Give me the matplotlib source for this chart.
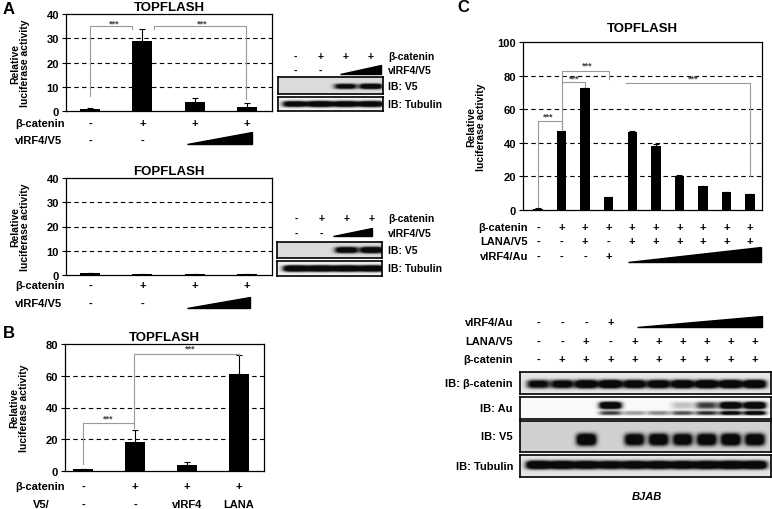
import numpy as np
import matplotlib
matplotlib.use("Agg")
import matplotlib.pyplot as plt
from matplotlib import transforms
from matplotlib.patches import Polygon

plt.rcParams['font.family'] = ['Liberation Sans', 'DejaVu Sans']
plt.rcParams['font.weight'] = 'bold'

# ---- data ----
a_top_vals = [1.0, 29.0, 3.8, 1.5]
a_top_err = [0.2, 5.0, 1.6, 2.0]
a_fop_vals = [0.8, 0.5, 0.4, 0.5]
a_fop_err = [0.1, 0.1, 0.1, 0.1]
b_vals = [1.0, 18.5, 3.5, 61.0]
b_err = [0.2, 7.5, 2.0, 12.0]
c_vals = [0.8, 47.0, 72.5, 7.5, 46.5, 38.0, 20.5, 14.0, 10.5, 9.5]
c_err = [0.2, 0.3, 0.3, 0.2, 0.3, 1.5, 0.3, 0.3, 0.3, 0.3]

a_bcat = ['-', '+', '+', '+']
a_virf = ['-', '-', '', '']
b_bcat = ['-', '+', '+', '+']
b_v5 = ['-', '-', 'vIRF4', 'LANA']
c_bcat = ['-', '+', '+', '+', '+', '+', '+', '+', '+', '+']
c_lana = ['-', '-', '+', '-', '+', '+', '+', '+', '+', '+']
c_virf = ['-', '-', '-', '+', '', '', '', '', '', '']

# blot band intensities per lane
a1_v5 = [0.0, 0.0, 0.8, 1.0]
a1_tub = [0.85, 1.0, 0.95, 0.95]
a2_v5 = [0.0, 0.0, 0.9, 1.0]
a2_tub = [1.0, 1.0, 1.0, 1.0]
c_ib_bcat = [0.75, 0.8, 0.95, 1.0, 0.9, 0.9, 0.95, 1.0, 1.0, 1.0]
c_ib_au_hi = [0.0, 0.0, 0.0, 1.0, 0.0, 0.0, 0.15, 0.5, 0.95, 1.0]
c_ib_au_lo = [0.0, 0.0, 0.0, 0.5, 0.25, 0.3, 0.45, 0.55, 0.75, 0.85]
c_ib_v5 = [0.0, 0.0, 1.0, 0.0, 0.9, 0.95, 0.9, 0.95, 1.0, 0.95]
c_ib_tub = [1.0, 0.95, 0.9, 0.85, 0.9, 0.9, 0.9, 0.95, 1.0, 1.0]

W, H = 772, 510
fig = plt.figure(figsize=(W / 100, H / 100), dpi=100)


def box(x0, y0, x1, y1):
    return fig.add_axes([x0 / W, 1 - y1 / H, (x1 - x0) / W, (y1 - y0) / H])


def fy(y):
    return 1 - y / H


def bar_panel(rect, xlim, vals, errs, ytop, step, title, width, lab_x, tpad=3):
    ax = box(*rect)
    x = np.arange(len(vals))
    ax.bar(x, vals, width=width, color='black', zorder=3)
    ax.errorbar(x, vals, yerr=[np.zeros(len(errs)), errs], fmt='none', ecolor='black',
                elinewidth=0.8, capsize=2, capthick=0.8, zorder=3)
    ax.set_xlim(xlim)
    ax.set_ylim(0, ytop)
    ticks = np.arange(0, ytop + 1, step)
    ax.set_yticks(ticks)
    for t in ticks[1:-1]:
        ax.axhline(t, color='black', lw=0.8, ls=(0, (4, 3)), zorder=1)
    ax.set_xticks([])
    ax.tick_params(axis='y', direction='out', length=3, width=0.8, labelsize=8, pad=2)
    for s in ax.spines.values():
        s.set_linewidth(0.9)
    ax.set_title(title, fontsize=9.5, fontweight='bold', pad=tpad)
    ax.set_ylabel('Relative\nluciferase activity', fontsize=7.5, fontweight='bold', linespacing=1.0)
    ax.yaxis.set_label_coords(lab_x, 0.5)
    return ax


def bracket(ax, xs, ys, sx, sy):
    ax.plot(xs, ys, color='#999999', lw=0.8, zorder=4, clip_on=False)
    ax.text(sx, sy, '***', ha='center', va='center', fontsize=6.5, color='#444444', zorder=5)


def row(ax, y, labels, label, lx, ha='left', size=8):
    tr = transforms.blended_transform_factory(ax.transData, fig.transFigure)
    for i, s in enumerate(labels):
        if s:
            ax.text(i, fy(y), s, transform=tr, ha='center', va='center', fontsize=size,
                    fontweight='bold', clip_on=False)
    fig.text(lx / W, fy(y), label, ha=ha, va='center', fontsize=size, fontweight='bold')


def wedge(ax, x0, x1, ybot, ytop):
    tr = transforms.blended_transform_factory(ax.transData, fig.transFigure)
    ax.add_patch(Polygon([(x0, fy(ybot)), (x1, fy(ybot)), (x1, fy(ytop))], closed=True,
                         transform=tr, color='black', clip_on=False))


def blot(rect, xlim, bands, bg, label, lx, ha='left', size=7.5):
    ax = box(*rect)
    xs = np.linspace(xlim[0], xlim[1], 500)
    ys = np.linspace(0, 1, 80)
    X, Y = np.meshgrid(xs, ys)
    dens = np.zeros_like(X)
    for vals, yc, hh, ww in bands:
        for i, v in enumerate(vals):
            dens += 1.6 * v * np.exp(-((X - i) / ww) ** 4) * np.exp(-np.abs((Y - yc) / hh) ** 3)
    dens = np.clip(dens, 0, 1)
    img = bg - (bg - 0.04) * dens
    ax.imshow(img, cmap='gray', vmin=0, vmax=1, extent=[xlim[0], xlim[1], 0, 1],
              origin='lower', aspect='auto', interpolation='bilinear')
    ax.set_xlim(xlim)
    ax.set_ylim(0, 1)
    ax.set_xticks([])
    ax.set_yticks([])
    for s in ax.spines.values():
        s.set_linewidth(1.2)
    yc = (rect[1] + rect[3]) / 2
    fig.text(lx / W, fy(yc), label, ha=ha, va='center', fontsize=size, fontweight='bold')
    return ax


# ---- A: TOPFLASH ----
ax = bar_panel((66, 15, 272, 112), (-0.46, 3.48), a_top_vals, a_top_err, 40, 10, 'TOPFLASH', 0.38, -0.175)
bracket(ax, [0, 0, 0.8, 0.8], [6, 35, 35, 34], 0.46, 36.3)
bracket(ax, [1.22, 1.22, 2.98, 2.98], [34, 35, 35, 5], 2.15, 36.3)
row(ax, 124, a_bcat, 'β-catenin', 15)
row(ax, 141, a_virf, 'vIRF4/V5', 15)
wedge(ax, 1.85, 3.1, 145, 133)

# ---- A: FOPFLASH ----
ax = bar_panel((66, 179, 272, 276), (-0.46, 3.48), a_fop_vals, a_fop_err, 40, 10, 'FOPFLASH', 0.38, -0.175)
row(ax, 286, a_bcat, 'β-catenin', 15)
row(ax, 304, a_virf, 'vIRF4/V5', 15)
wedge(ax, 1.85, 3.05, 309, 298)

# ---- A blots ----
bx = blot((278, 78, 383, 95), (-0.67, 3.47), [(a1_v5, 0.45, 0.16, 0.45)], 0.86, 'IB: V5', 388)
row(bx, 57, a_bcat, 'β-catenin', 388, size=7.5)
row(bx, 71, a_virf, 'vIRF4/V5', 388, size=7.5)
wedge(bx, 1.78, 3.4, 75, 66)
blot((278, 98, 383, 112), (-0.67, 3.47), [(a1_tub, 0.5, 0.22, 0.5)], 0.95, 'IB: Tubulin', 388)

bx = blot((277, 243, 382, 259), (-0.75, 3.4), [(a2_v5, 0.5, 0.2, 0.46)], 0.86, 'IB: V5', 388)
row(bx, 219, a_bcat, 'β-catenin', 388, size=7.5)
row(bx, 234, a_virf, 'vIRF4/V5', 388, size=7.5)
wedge(bx, 1.45, 3.0, 237, 229)
blot((277, 262, 382, 277), (-0.75, 3.4), [(a2_tub, 0.5, 0.22, 0.52)], 0.95, 'IB: Tubulin', 388)

# ---- B ----
ax = bar_panel((65, 345, 264, 472), (-0.35, 3.48), b_vals, b_err, 80, 20, 'TOPFLASH', 0.38, -0.18)
bracket(ax, [0, 0, 0.98, 0.98], [4.4, 30, 30, 27], 0.48, 33.5)
bracket(ax, [0.98, 0.98, 3.0, 3.0], [30, 74, 74, 73.3], 2.05, 77.5)
row(ax, 487, b_bcat, 'β-catenin', 15)
row(ax, 505, b_v5, 'V5/', 33)

# ---- C ----
ax = bar_panel((523, 43, 762, 211), (-0.64, 9.51), c_vals, c_err, 100, 20, 'TOPFLASH', 0.4, -0.155, tpad=8)
bracket(ax, [0, 0, 1, 1], [1.8, 53, 53, 48], 0.45, 56)
bracket(ax, [1, 1, 2, 2], [48, 76, 76, 73.5], 1.55, 78.5)
bracket(ax, [1, 1, 3, 3], [77, 83, 83, 78], 2.1, 86)
bracket(ax, [3.73, 9, 9], [75.5, 75.5, 20], 6.6, 78.5)
row(ax, 228, c_bcat, 'β-catenin', 528, ha='right')
row(ax, 242, c_lana, 'LANA/V5', 528, ha='right')
row(ax, 257, c_virf, 'vIRF4/Au', 528, ha='right')
wedge(ax, 3.82, 9.47, 263, 248)

# ---- C blots ----
cx = (-0.75, 9.66)
bx = blot((520, 373, 771, 395), cx, [(c_ib_bcat, 0.45, 0.2, 0.48)], 0.9, 'IB: β-catenin', 513, ha='right', size=8)
row(bx, 323, c_virf, 'vIRF4/Au', 513, ha='right')
row(bx, 342, c_lana, 'LANA/V5', 513, ha='right')
row(bx, 360, c_bcat, 'β-catenin', 513, ha='right')
wedge(bx, 4.1, 9.3, 328, 317)
blot((520, 398, 771, 420), cx, [(c_ib_au_hi, 0.62, 0.17, 0.47), (c_ib_au_lo, 0.27, 0.1, 0.47)], 0.98,
     'IB: Au', 513, ha='right', size=8)
blot((520, 422, 771, 453), cx, [(c_ib_v5, 0.4, 0.2, 0.42)], 0.82, 'IB: V5', 513, ha='right', size=8)
blot((520, 456, 771, 478), cx, [(c_ib_tub, 0.55, 0.2, 0.52)], 0.9, 'IB: Tubulin', 513, ha='right', size=8)
fig.text(647 / W, fy(497), 'BJAB', ha='center', va='center', fontsize=8, fontweight='bold', style='italic')

# panel letters
fig.text(3 / W, fy(10), 'A', ha='left', va='center', fontsize=12, fontweight='bold')
fig.text(3 / W, fy(333), 'B', ha='left', va='center', fontsize=12, fontweight='bold')
fig.text(457 / W, fy(8), 'C', ha='left', va='center', fontsize=12, fontweight='bold')

fig.savefig('out.png', dpi=100)
